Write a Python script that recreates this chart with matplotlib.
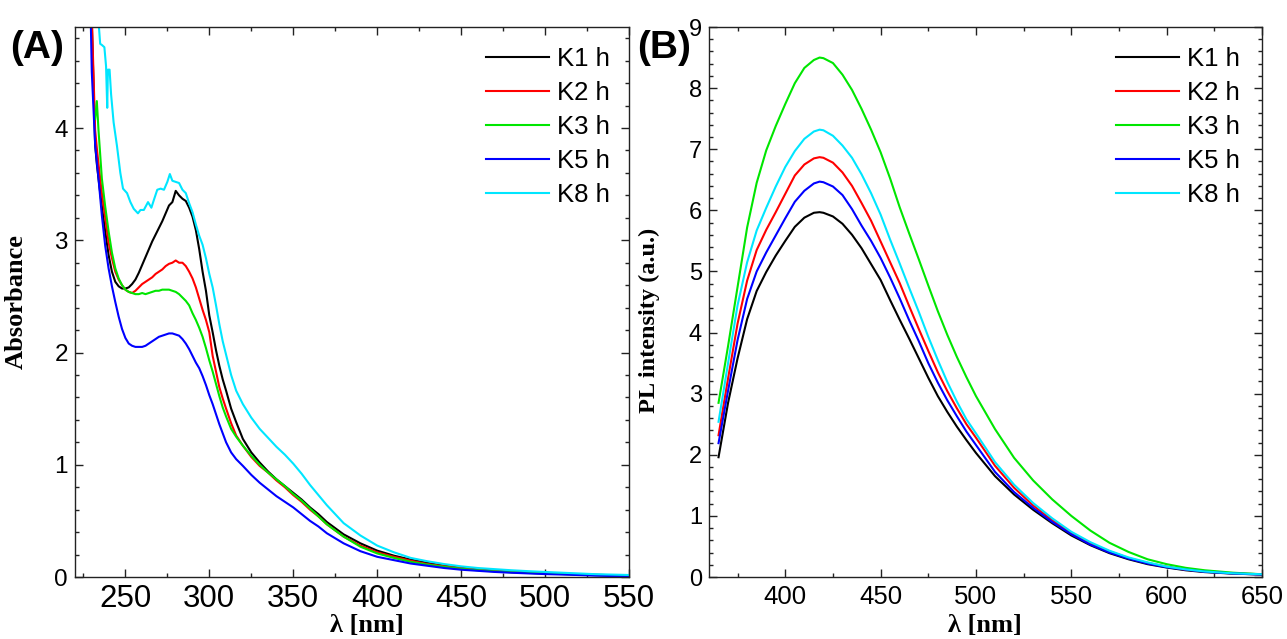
import numpy as np
import matplotlib
matplotlib.use("Agg")
import matplotlib.pyplot as plt
from matplotlib.ticker import MultipleLocator

# ---------------- data: panel (A) absorbance ----------------
abs_wl = [228, 230, 232, 233, 234, 236, 238, 240, 242, 244, 246, 248, 250, 252, 254, 256, 258,
          260, 262, 264, 266, 268, 270, 272, 274, 276, 278, 280, 282, 284, 286, 288, 290, 292,
          294, 296, 298, 300, 302, 304, 306, 308, 310, 313, 316, 320, 325, 330, 335, 340, 345,
          350, 355, 360, 365, 370, 380, 390, 400, 410, 420, 430, 440, 450, 460, 470, 480, 490,
          500, 515, 530, 550]

abs_k1 = [6.5, 4.95, 3.85, 3.68, 3.55, 3.30, 3.08, 2.87, 2.72, 2.63, 2.59, 2.57, 2.57, 2.58, 2.61,
          2.65, 2.71, 2.78, 2.85, 2.92, 2.99, 3.05, 3.11, 3.17, 3.24, 3.31, 3.34, 3.44, 3.40, 3.37,
          3.35, 3.29, 3.21, 3.09, 2.92, 2.72, 2.55, 2.33, 2.18, 2.02, 1.88, 1.76, 1.66, 1.50, 1.38,
          1.23, 1.11, 1.02, 0.94, 0.87, 0.81, 0.75, 0.69, 0.62, 0.56, 0.49, 0.38, 0.30, 0.235,
          0.19, 0.155, 0.125, 0.10, 0.082, 0.067, 0.055, 0.045, 0.04, 0.035, 0.027, 0.02, 0.012]

abs_k2 = [6.5, 5.0, 3.98, 3.82, 3.68, 3.42, 3.20, 2.98, 2.84, 2.72, 2.65, 2.60, 2.56, 2.54, 2.53,
          2.55, 2.58, 2.61, 2.63, 2.65, 2.67, 2.70, 2.72, 2.74, 2.77, 2.79, 2.80, 2.82, 2.80, 2.80,
          2.77, 2.72, 2.66, 2.58, 2.48, 2.38, 2.29, 2.18, 1.97, 1.83, 1.69, 1.59, 1.50, 1.37, 1.26,
          1.17, 1.07, 0.99, 0.93, 0.86, 0.80, 0.73, 0.67, 0.60, 0.54, 0.47, 0.36, 0.28, 0.22,
          0.18, 0.145, 0.115, 0.095, 0.078, 0.063, 0.052, 0.043, 0.037, 0.032, 0.025, 0.018, 0.01]

abs_k3 = [np.nan, np.nan, 4.08, 4.24, 3.98, 3.55, 3.30, 3.08, 2.89, 2.75, 2.66, 2.60, 2.56, 2.54,
          2.53, 2.52, 2.52, 2.53, 2.52, 2.53, 2.54, 2.55, 2.55, 2.56, 2.56, 2.56, 2.55, 2.54, 2.52,
          2.49, 2.46, 2.42, 2.35, 2.29, 2.22, 2.14, 2.04, 1.93, 1.83, 1.72, 1.61, 1.51, 1.43, 1.32,
          1.25, 1.17, 1.08, 1.00, 0.93, 0.87, 0.81, 0.74, 0.68, 0.61, 0.54, 0.47, 0.36, 0.27,
          0.21, 0.17, 0.135, 0.11, 0.09, 0.073, 0.06, 0.05, 0.042, 0.036, 0.031, 0.024, 0.017, 0.01]

abs_k5 = [6.0, 4.5, 3.85, 3.70, 3.55, 3.22, 2.95, 2.75, 2.59, 2.45, 2.32, 2.21, 2.13, 2.08, 2.06,
          2.05, 2.05, 2.05, 2.06, 2.08, 2.10, 2.12, 2.14, 2.15, 2.16, 2.17, 2.17, 2.16, 2.15, 2.12,
          2.08, 2.03, 1.97, 1.91, 1.86, 1.79, 1.71, 1.62, 1.54, 1.45, 1.36, 1.28, 1.20, 1.11, 1.05,
          0.99, 0.91, 0.84, 0.78, 0.72, 0.67, 0.62, 0.56, 0.50, 0.45, 0.39, 0.30, 0.23, 0.18,
          0.15, 0.12, 0.10, 0.08, 0.065, 0.055, 0.045, 0.038, 0.032, 0.026, 0.02, 0.012, 0.005]

abs_k8_wl = [232, 234, 235, 236, 237.5, 238.5, 239.2, 239.6, 240.6, 241.5, 243, 245, 247, 248.6,
             251, 253, 255, 257.5, 259, 261, 263.5, 265.5, 267, 269, 271, 273, 275, 276.5, 278,
             280, 282, 284, 286, 288, 290, 292, 294, 296, 298, 300, 302, 304, 306, 308, 310, 313,
             316, 320, 325, 330, 335, 340, 345, 350, 355, 360, 365, 370, 380, 390, 400, 410, 420,
             430, 440, 450, 460, 470, 480, 490, 500, 515, 530, 550]
abs_k8 = [6.0, 4.95, 4.75, 4.74, 4.72, 4.55, 4.18, 4.52, 4.52, 4.30, 4.05, 3.84, 3.60, 3.46,
          3.42, 3.34, 3.28, 3.24, 3.27, 3.27, 3.34, 3.29, 3.36, 3.45, 3.46, 3.45, 3.52, 3.59, 3.53,
          3.52, 3.51, 3.45, 3.42, 3.33, 3.25, 3.14, 3.04, 2.96, 2.84, 2.70, 2.58, 2.42, 2.25, 2.10,
          1.98, 1.80, 1.66, 1.54, 1.42, 1.32, 1.24, 1.16, 1.09, 1.01, 0.92, 0.82, 0.73, 0.64,
          0.48, 0.37, 0.28, 0.22, 0.17, 0.14, 0.115, 0.095, 0.08, 0.07, 0.06, 0.052, 0.045,
          0.035, 0.025, 0.018]

# ---------------- data: panel (B) PL ----------------
pl_wl = [365, 370, 375, 380, 385, 390, 395, 400, 405, 410, 415, 418, 420, 425, 430, 435, 440,
         445, 450, 455, 460, 465, 470, 475, 480, 485, 490, 495, 500, 510, 520, 530, 540, 550,
         560, 570, 580, 590, 600, 610, 620, 635, 650]

pl_k1 = [1.96, 2.85, 3.58, 4.22, 4.68, 4.99, 5.26, 5.50, 5.73, 5.88, 5.96, 5.97, 5.96, 5.90,
         5.78, 5.60, 5.38, 5.12, 4.86, 4.53, 4.21, 3.90, 3.58, 3.26, 2.96, 2.70, 2.46, 2.24,
         2.03, 1.65, 1.35, 1.10, 0.88, 0.68, 0.52, 0.39, 0.29, 0.21, 0.155, 0.11, 0.08, 0.055, 0.04]

pl_k2 = [2.32, 3.25, 4.15, 4.85, 5.35, 5.68, 5.97, 6.27, 6.57, 6.75, 6.85, 6.87, 6.86, 6.78,
         6.62, 6.40, 6.12, 5.83, 5.49, 5.15, 4.81, 4.43, 4.06, 3.70, 3.35, 3.04, 2.76, 2.50,
         2.28, 1.82, 1.46, 1.17, 0.93, 0.72, 0.55, 0.42, 0.31, 0.23, 0.17, 0.12, 0.09, 0.06, 0.045]

pl_k3 = [2.85, 3.78, 4.75, 5.72, 6.45, 6.98, 7.38, 7.74, 8.08, 8.33, 8.46, 8.50, 8.49, 8.41,
         8.22, 7.97, 7.66, 7.32, 6.95, 6.52, 6.05, 5.62, 5.20, 4.77, 4.35, 3.96, 3.60, 3.27,
         2.96, 2.42, 1.95, 1.58, 1.27, 1.00, 0.76, 0.56, 0.41, 0.29, 0.21, 0.15, 0.11, 0.07, 0.045]

pl_k5 = [2.19, 3.05, 3.88, 4.55, 5.00, 5.31, 5.59, 5.87, 6.14, 6.32, 6.44, 6.47, 6.46, 6.39,
         6.25, 6.02, 5.75, 5.50, 5.22, 4.90, 4.56, 4.20, 3.86, 3.50, 3.18, 2.89, 2.63, 2.38,
         2.16, 1.72, 1.39, 1.13, 0.90, 0.70, 0.53, 0.40, 0.30, 0.22, 0.16, 0.12, 0.085, 0.057, 0.04]

pl_k8 = [2.54, 3.50, 4.45, 5.15, 5.67, 6.04, 6.39, 6.71, 6.97, 7.17, 7.29, 7.32, 7.31, 7.22,
         7.06, 6.86, 6.59, 6.28, 5.93, 5.52, 5.13, 4.73, 4.34, 3.93, 3.55, 3.19, 2.87, 2.58,
         2.35, 1.88, 1.51, 1.21, 0.96, 0.74, 0.57, 0.43, 0.32, 0.24, 0.17, 0.125, 0.09, 0.06, 0.045]

labels = ["K1 h", "K2 h", "K3 h", "K5 h", "K8 h"]
colors = ["#000000", "#ff0000", "#00e600", "#0000ff", "#00e6ff"]

# ---------------- figure ----------------
plt.rcParams['font.family'] = ['Liberation Sans', 'DejaVu Sans']
fig = plt.figure(figsize=(12.87, 6.39), dpi=100)
W, H = 1287, 639
axA = fig.add_axes([75 / W, (H - 577) / H, (629 - 75) / W, (577 - 27) / H])
axB = fig.add_axes([709 / W, (H - 577) / H, (1262 - 709) / W, (577 - 27) / H])

lw = 1.5
abs_series = [(abs_wl, abs_k1), (abs_wl, abs_k2), (abs_wl, abs_k3), (abs_wl, abs_k5), (abs_k8_wl, abs_k8)]
for (x, y), c, lab in zip(abs_series, colors, labels):
    axA.plot(x, y, color=c, lw=lw, label=lab)
pl_series = [pl_k1, pl_k2, pl_k3, pl_k5, pl_k8]
for y, c, lab in zip(pl_series, colors, labels):
    axB.plot(pl_wl, y, color=c, lw=lw, label=lab)

axA.set_xlim(220, 550)
axA.set_ylim(0, 4.9)
axB.set_xlim(360, 650)
axB.set_ylim(0, 9)

axA.xaxis.set_major_locator(MultipleLocator(50))
axA.xaxis.set_minor_locator(MultipleLocator(25))
axA.yaxis.set_major_locator(MultipleLocator(1))
axA.yaxis.set_minor_locator(MultipleLocator(0.2))
axB.xaxis.set_major_locator(MultipleLocator(50))
axB.xaxis.set_minor_locator(MultipleLocator(25))
axB.yaxis.set_major_locator(MultipleLocator(1))
axB.yaxis.set_minor_locator(MultipleLocator(0.2))

for ax in (axA, axB):
    for s in ax.spines.values():
        s.set_linewidth(1.0)
        s.set_color("#222222")
    ax.tick_params(which='both', direction='in', top=True, right=True, color="#222222", width=1.0)
    ax.tick_params(which='major', length=5.5)
    ax.tick_params(which='minor', length=3)

axA.tick_params(axis='x', which='major', labelsize=22.5, pad=5)
axA.tick_params(axis='y', which='major', labelsize=17.5, pad=5)
axB.tick_params(axis='x', which='major', labelsize=18.5, pad=6)
axB.tick_params(axis='y', which='major', labelsize=17, pad=5)

serif = ['Liberation Serif', 'DejaVu Serif']
axA.set_ylabel("Absorbance", family=serif, fontweight='bold', fontsize=19)
axA.yaxis.set_label_coords(-0.085, 0.5)
axB.set_ylabel("PL intensity (a.u.)", family=serif, fontweight='bold', fontsize=17.5)
axB.yaxis.set_label_coords(-0.088, 0.467)
axA.set_xlabel("λ [nm]", family=serif, fontweight='bold', fontsize=19)
axA.xaxis.set_label_coords(0.527, -0.068)
axB.set_xlabel("λ [nm]", family=serif, fontweight='bold', fontsize=19)
axB.xaxis.set_label_coords(0.499, -0.068)

axA.legend(loc='upper right', bbox_to_anchor=(1 - 19 / 554, 1 - 19.5 / 550), frameon=False,
           fontsize=18.5, handlelength=2.45, handletextpad=0.32, labelspacing=0.39,
           borderpad=0, borderaxespad=0)
axB.legend(loc='upper right', bbox_to_anchor=(1 - 22 / 553, 1 - 19.5 / 550), frameon=False,
           fontsize=18.5, handlelength=2.45, handletextpad=0.32, labelspacing=0.39,
           borderpad=0, borderaxespad=0)

fig.text(10 / W, 1 - 48 / H, "(A)", fontsize=28, fontweight='bold', va='center', ha='left')
fig.text(637 / W, 1 - 48 / H, "(B)", fontsize=28, fontweight='bold', va='center', ha='left')

fig.savefig("out.png", dpi=100)
